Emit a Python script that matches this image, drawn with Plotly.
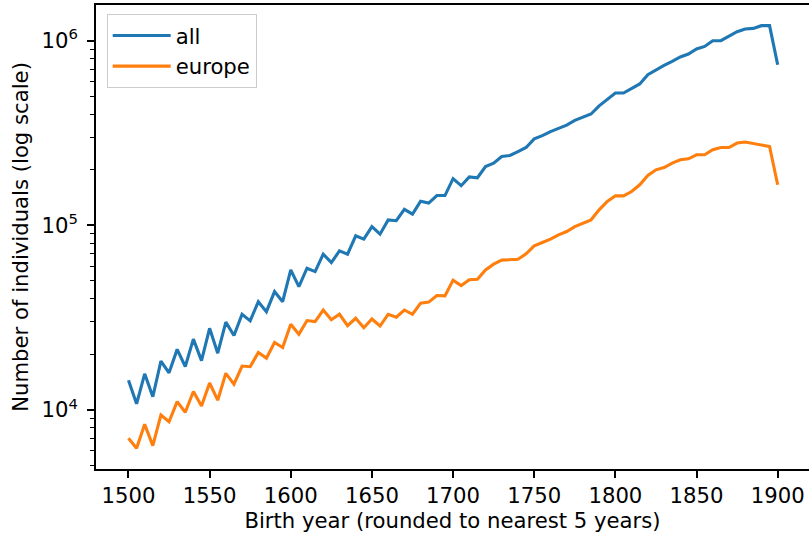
import plotly.graph_objects as go

years = [1500, 1505, 1510, 1515, 1520, 1525, 1530, 1535, 1540, 1545,
         1550, 1555, 1560, 1565, 1570, 1575, 1580, 1585, 1590, 1595,
         1600, 1605, 1610, 1615, 1620, 1625, 1630, 1635, 1640, 1645,
         1650, 1655, 1660, 1665, 1670, 1675, 1680, 1685, 1690, 1695,
         1700, 1705, 1710, 1715, 1720, 1725, 1730, 1735, 1740, 1745,
         1750, 1755, 1760, 1765, 1770, 1775, 1780, 1785, 1790, 1795,
         1800, 1805, 1810, 1815, 1820, 1825, 1830, 1835, 1840, 1845,
         1850, 1855, 1860, 1865, 1870, 1875, 1880, 1885, 1890, 1895,
         1900]

all_counts = [14500, 10800, 15700, 11800, 18400, 15900, 21300, 17200, 24200, 18500,
              27700, 20300, 29900, 25300, 33000, 30400, 38600, 34100, 43800, 38600,
              57400, 46600, 58600, 56200, 69800, 62900, 72700, 69800, 87700, 84200,
              98500, 89600, 107000, 106000, 122000, 115000, 135000, 132000, 145000, 145000,
              179000, 164000, 183000, 181000, 208000, 217000, 236000, 239000, 251000, 264000,
              294000, 306000, 322000, 334000, 349000, 370000, 386000, 401000, 444000, 479000,
              521000, 521000, 554000, 583000, 654000, 697000, 735000, 773000, 816000, 847000,
              902000, 931000, 1000000, 1000000, 1055000, 1119000, 1157000, 1166000, 1206000, 1206000,
              741000]

europe_counts = [7030, 6200, 8360, 6410, 9400, 8640, 11100, 9720, 12600, 10500,
                 14000, 11300, 15800, 13800, 17300, 17150, 20500, 19100, 23200, 21800,
                 29100, 25700, 30500, 30100, 34800, 30800, 33000, 28600, 31400, 27900,
                 31100, 28500, 33000, 31800, 34800, 33000, 37900, 38400, 41700, 41500,
                 50500, 47200, 50700, 51100, 57400, 61600, 64800, 65200, 65500, 70100,
                 77400, 80700, 84200, 88800, 92600, 98500, 102800, 107100, 121300, 134600,
                 144500, 144500, 152500, 165800, 186200, 199900, 205700, 217400, 226400, 229300,
                 241000, 241000, 256600, 264000, 264000, 279000, 282500, 276600, 272100, 267300,
                 165800]

series_names = ["all", "europe"]
series_colors = ["#1f77b4", "#ff7f0e"]

x_ticks = [1500, 1550, 1600, 1650, 1700, 1750, 1800, 1850, 1900]
y_ticks = [1e4, 1e5, 1e6]
y_ticktext = ["10<sup>4</sup>", "10<sup>5</sup>", "10<sup>6</sup>"]
y_minor = [m * 10 ** e for e in (3, 4, 5, 6) for m in range(2, 10)]

FONT = "DejaVu Sans"
FS = 21.2

fig = go.Figure()
for name, vals, col in zip(series_names, [all_counts, europe_counts], series_colors):
    fig.add_trace(go.Scatter(x=years, y=vals, mode="lines", name=name,
                             line=dict(color=col, width=3.1)))

fig.update_layout(
    width=809, height=538, autosize=False,
    margin=dict(l=96, r=0, t=5, b=69, pad=0),
    plot_bgcolor="white", paper_bgcolor="white",
    font=dict(family=FONT, size=FS, color="black"),
    showlegend=True,
    legend=dict(x=0.015, y=0.98, xanchor="left", yanchor="top",
                bgcolor="rgba(255,255,255,0.8)", bordercolor="#cccccc", borderwidth=1,
                font=dict(family=FONT, size=FS, color="black"), itemwidth=58,
                tracegroupgap=0),
)

fig.update_xaxes(
    range=[1480, 1919.3], showgrid=False, zeroline=False, automargin=False,
    showline=True, linecolor="black", linewidth=1.6, mirror=True,
    ticks="outside", ticklen=7, tickwidth=1.6, tickcolor="black",
    tickmode="array", tickvals=x_ticks, ticktext=[str(v) for v in x_ticks],
    tickfont=dict(family=FONT, size=FS, color="black"),
    title=dict(text="Birth year (rounded to nearest 5 years)",
               font=dict(family=FONT, size=FS, color="black"), standoff=6),
)

fig.update_yaxes(
    type="log", range=[3.6805, 6.1933], showgrid=False, zeroline=False, automargin=False,
    showline=True, linecolor="black", linewidth=1.6, mirror=False,
    ticks="outside", ticklen=7, tickwidth=1.6, tickcolor="black",
    tickmode="array", tickvals=y_ticks, ticktext=y_ticktext,
    tickfont=dict(family=FONT, size=FS, color="black"), ticklabelstandoff=5,
    minor=dict(ticks="outside", ticklen=4, tickwidth=1.2, tickcolor="black",
               tickmode="array", tickvals=y_minor, showgrid=False),
    title=dict(text="Number of individuals (log scale)",
               font=dict(family=FONT, size=FS, color="black"), standoff=7.5),
)

fig.write_html("out.html", config={"displayModeBar": False},
               post_script="document.body.style.margin='0';document.body.style.overflow='hidden';")
